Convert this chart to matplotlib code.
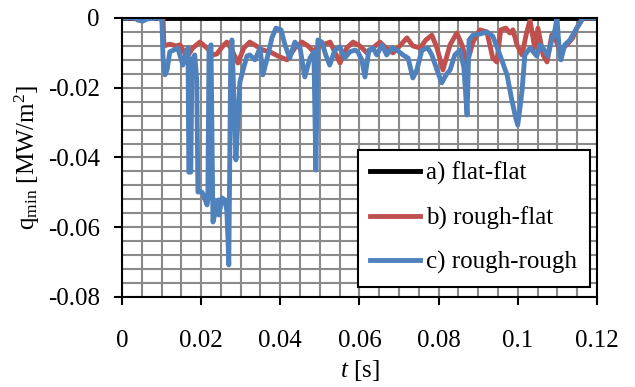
import numpy as np
import matplotlib
matplotlib.use("Agg")
import matplotlib.pyplot as plt
from matplotlib.ticker import MultipleLocator, FuncFormatter

plt.rcParams["font.family"] = ["Liberation Serif", "DejaVu Serif"]
plt.rcParams["mathtext.fontset"] = "custom"
plt.rcParams["mathtext.rm"] = "Liberation Serif"
plt.rcParams["mathtext.it"] = "Liberation Serif:italic"
plt.rcParams["axes.unicode_minus"] = False

# time in ms, heat flux in kW/m2
flat_t_ms = [0.0, 120.0]
flat_q = [0.0, 0.0]

rough_flat_t_ms = [
    0, 9.6, 10.4, 10.6, 12.1, 13.6, 14.7, 16.4, 17.9, 19.7,
    21.5, 23.0, 24.0, 25.3, 26.5, 27.8, 29.3, 30.8, 32.3, 33.9,
    35.6, 37.4, 39.4, 41.7, 43.7, 45.5, 47.0, 48.3, 50.0, 52.6,
    55.1, 56.8, 58.4, 60.1, 61.9, 63.4, 65.2, 66.7, 68.5, 70.2,
    72.0, 73.5, 75.3, 76.8, 78.3, 79.6, 81.1, 82.9, 84.6, 85.9,
    87.2, 88.7, 90.4, 92.2, 93.7, 94.7, 95.7, 97.0, 98.0, 98.8,
    99.8, 101.1, 102.1, 103.1, 104.3, 105.1, 106.4, 107.4, 108.6, 109.6,
    110.6, 112.4, 113.9, 114.9, 116.5, 120.0]
rough_flat_q = [
    0, 0, 0, -8.0, -7.5, -8.0, -7.7, -11.2, -8.6, -6.9,
    -8.6, -10.6, -10.3, -8.3, -6.9, -9.2, -12.9, -8.6, -6.9, -8.0,
    -9.2, -9.7, -10.9, -12.0, -8.6, -6.9, -8.0, -9.5, -8.0, -6.9,
    -12.9, -8.6, -6.9, -8.0, -10.0, -8.6, -6.9, -8.6, -10.0, -8.0,
    -5.7, -8.0, -8.6, -6.3, -4.9, -8.6, -14.9, -7.7, -4.3, -7.7,
    -12.9, -6.9, -3.4, -4.0, -11.5, -12.6, -3.4, -2.9, -4.3, -3.4,
    -7.7, -10.6, -4.9, -0.6, -8.6, -2.9, -10.6, -12.6, -4.9, -6.3,
    -9.2, -7.7, -5.7, -2.9, 0, 0]

rough_rough_t_ms = [
    0, 3.3, 4.0, 5.3, 6.3, 9.1, 10.1, 10.4, 10.9, 11.4,
    12.1, 13.1, 14.1, 15.4, 16.2, 16.7, 16.9, 17.4, 17.7, 18.4,
    18.9, 19.2, 20.2, 20.7, 21.5, 21.7, 22.0, 22.5, 23.0, 23.7,
    24.3, 24.5, 25.3, 26.0, 26.5, 26.8, 27.0, 27.5, 27.8, 28.3,
    28.8, 29.3, 29.8, 30.6, 31.6, 32.3, 33.6, 34.9, 35.6, 36.6,
    37.9, 38.9, 40.2, 41.2, 42.4, 43.7, 45.0, 46.2, 47.5, 48.5,
    49.0, 49.5, 50.5, 51.5, 52.5, 53.8, 55.1, 56.3, 57.6, 58.9,
    59.6, 60.6, 61.4, 62.4, 63.4, 64.4, 65.7, 66.9, 68.2, 69.5,
    71.0, 72.3, 73.5, 74.5, 75.8, 77.3, 78.3, 79.6, 80.8, 81.9,
    82.9, 84.1, 85.4, 86.4, 87.2, 87.7, 88.7, 90.4, 92.2, 93.7,
    95.5, 97.3, 98.5, 99.5, 100.0, 100.5, 101.1, 101.8, 103.1, 104.8,
    105.6, 106.4, 107.6, 108.6, 109.4, 109.9, 110.4, 110.9, 111.9, 113.2,
    114.9, 116.5, 120.0]
rough_rough_q = [
    0, 0, -0.6, -0.9, -0.3, 0, -0.6, -12.0, -16.3, -14.9,
    -9.7, -9.2, -8.6, -13.5, -9.7, -8.6, -44.2, -44.2, -12.0, -10.6,
    -17.8, -49.9, -49.9, -51.0, -53.6, -52.2, -9.2, -7.7, -58.5, -55.1,
    -52.2, -56.5, -51.6, -52.2, -55.1, -63.7, -70.8, -9.2, -6.3, -23.5,
    -40.7, -29.2, -18.4, -14.9, -10.9, -10.6, -12.0, -8.6, -16.3, -12.0,
    -5.7, -2.9, -3.4, -7.7, -11.5, -6.9, -8.6, -16.9, -11.5, -9.7,
    -43.6, -6.3, -6.9, -10.6, -13.5, -9.2, -8.3, -11.5, -9.7, -9.2,
    -9.7, -12.0, -16.9, -9.2, -8.6, -10.6, -7.7, -10.6, -8.6, -9.2,
    -10.6, -11.5, -17.2, -14.9, -9.2, -8.6, -10.6, -14.9, -18.6, -16.3,
    -14.9, -10.6, -9.2, -14.3, -27.8, -6.3, -4.9, -4.6, -4.0, -5.2,
    -10.6, -16.3, -23.5, -28.7, -30.7, -26.4, -20.6, -10.6, -8.6, -10.9,
    -7.7, -8.6, -10.9, -6.3, -3.4, 0, -7.7, -12.0, -7.7, -6.3,
    -2.9, 0, 0]

labels = ["a) flat-flat", "b) rough-flat", "c) rough-rough"]
colors = ["black", "#C0504D", "#4F81BD"]

fig = plt.figure(figsize=(6.35, 3.87), dpi=100)
ax = fig.add_axes([0.192, 0.2326, 0.748, 0.7209])

series = [(flat_t_ms, flat_q), (rough_flat_t_ms, rough_flat_q),
          (rough_rough_t_ms, rough_rough_q)]
for (t, q), lab, c in zip(series, labels, colors):
    ax.plot(np.array(t) / 1000.0, np.array(q) / 1000.0, color=c, lw=3.5,
            label=lab, solid_joinstyle="round")

ax.set_xlim(0, 0.12)
ax.set_ylim(-0.08, 0)
ax.xaxis.set_major_locator(MultipleLocator(0.02))
ax.yaxis.set_major_locator(MultipleLocator(0.02))
ax.xaxis.set_minor_locator(MultipleLocator(0.005))
ax.yaxis.set_minor_locator(MultipleLocator(0.004))
ax.xaxis.set_major_formatter(FuncFormatter(lambda v, p: "%g" % round(v, 3)))
ax.yaxis.set_major_formatter(FuncFormatter(lambda v, p: "%g" % round(v, 3)))
ax.grid(True, which="both", color="#8a8a8a", lw=1.5)
ax.set_axisbelow(True)
ax.tick_params(which="major", length=6, width=1.5, labelsize=18)
ax.tick_params(axis="x", which="major", pad=18)
ax.tick_params(axis="y", which="major", pad=10)
ax.tick_params(which="minor", length=0)
for s in ax.spines.values():
    s.set_linewidth(1.5)

ax.set_xlabel(r"$t$ [s]", fontsize=18, labelpad=4)
ax.set_ylabel(r"q$_{\rm min}$ [MW/m$^2$]", fontsize=18, labelpad=4)

leg = ax.legend(loc="lower right", bbox_to_anchor=(0.985, 0.036), fontsize=18,
                frameon=True, fancybox=False, edgecolor="black",
                framealpha=1, handlelength=2.0, labelspacing=0.85,
                borderpad=0.5, handletextpad=0.25, borderaxespad=0)
leg.get_frame().set_linewidth(1.5)

fig.savefig("out.png", dpi=100)
